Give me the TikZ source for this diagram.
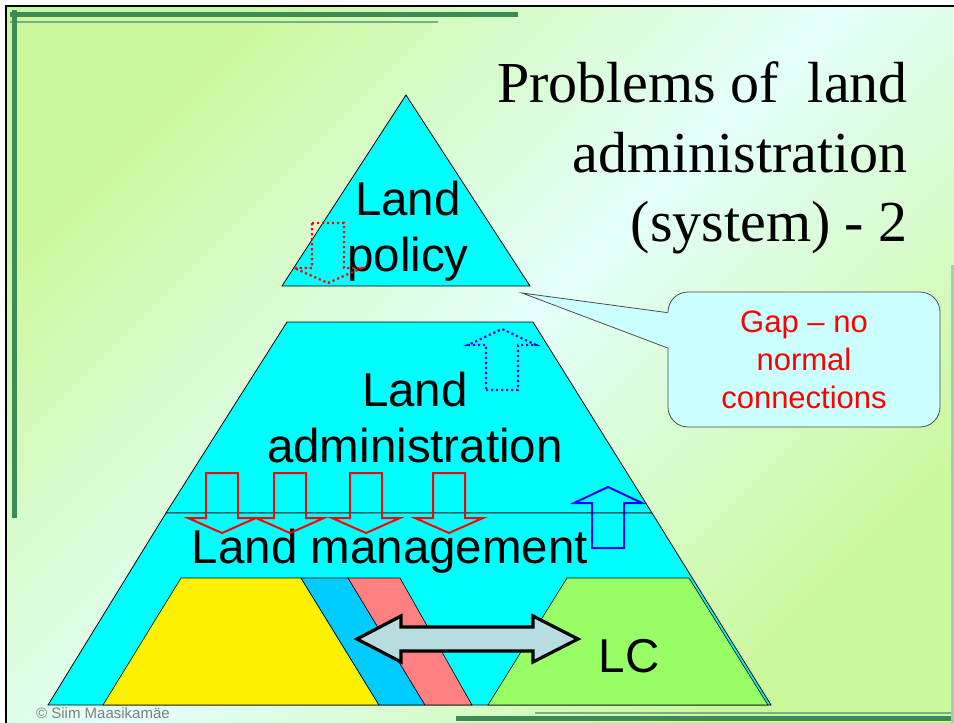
\documentclass[tikz,border=0pt]{standalone}
\usepackage{fontspec}
\setmainfont{Liberation Sans}
\newfontfamily\titlefont{Liberation Serif}
\definecolor{pyramidcyan}{RGB}{0, 255, 255}
\definecolor{stripeblue}{RGB}{0, 204, 255}
\definecolor{stripepink}{RGB}{255, 128, 128}
\definecolor{lcgreen}{RGB}{153, 255, 102}
\definecolor{calloutcyan}{RGB}{204, 255, 255}
\definecolor{arrowgrey}{RGB}{184, 221, 224}
\definecolor{framegreen}{RGB}{60, 140, 90}
\definecolor{bgleaf}{RGB}{204, 248, 156}
\definecolor{bgmint}{RGB}{228, 255, 252}
\usetikzlibrary{calc, positioning}

\tikzset{
  layer/.style={draw=black, line width=0.8pt, fill=pyramidcyan},
  slab/.style={draw=black, line width=0.6pt},
  levellabel/.style={font=\fontsize{47.5}{55.5}\selectfont, align=center, inner sep=0pt},
  dotline/.style={line width=2.2pt, dash pattern=on 2.2pt off 2.8pt},
  downarrow/.pic={\draw[pic actions] (-16,0) -- (16,0) -- (16,45) -- (34,45) -- (0,60) -- (-34,45) -- (-16,45) -- cycle;},
  uparrow/.pic={\draw[pic actions] (-16,0) -- (16,0) -- (16,-45) -- (34,-45) -- (0,-61) -- (-34,-45) -- (-16,-45) -- cycle;}
}

\begin{document}
\begin{tikzpicture}[x=1pt, y=-1pt]
  \useasboundingbox (0,0) rectangle (954,723);

  % Slide background and frame
  \fill[white] (0,0) rectangle (954,723);
  \shade[top color=bgleaf, bottom color=bgleaf, middle color=bgmint, shading angle=45] (6,6) rectangle (954,723);
  \draw[black, line width=2.5pt] (6,723) -- (6,6) -- (954,6);
  \draw[framegreen, line width=5pt] (10,14.5) -- (518,14.5);
  \draw[framegreen!70, line width=2pt] (10,21.5) -- (438,21.5);
  \draw[framegreen, line width=5pt] (14.5,10) -- (14.5,518);
  \draw[framegreen, line width=5pt] (456,718) -- (954,718);
  \draw[framegreen!70, line width=2pt] (535,712.5) -- (954,712.5);
  \draw[framegreen!45, line width=3pt] (952,265) -- (952,723);

  % Title
  \node[anchor=north east, align=right, inner sep=0pt, font=\titlefont\fontsize{58}{69.5}\selectfont] (title) at (908,61.5) {
    Problems of\ \ land\\administration\\(system) - 2
  };

  % Pyramid levels
  \draw[layer] (406,95) -- (530,286) -- (282,286) -- cycle;
  \draw[layer] (287,322) -- (533,322) -- (652,513) -- (166,513) -- cycle;
  \draw[layer] (166,513) -- (652,513) -- (771,705) -- (48,705) -- cycle;

  % Land management contents
  \draw[slab, fill=yellow] (181,578) -- (301,578) -- (379,705) -- (103,705) -- cycle;
  \draw[slab, fill=stripeblue] (301,578) -- (348,578) -- (425,705) -- (379,705) -- cycle;
  \draw[slab, fill=stripepink] (348,578) -- (400,578) -- (472,705) -- (425,705) -- cycle;
  \draw[slab, fill=lcgreen] (567,578) -- (689,578) -- (768,705) -- (488,705) -- cycle;
  \draw[line width=3.2pt, fill=arrowgrey, line join=miter] (357,639) -- (401,616) -- (401,627) -- (533,627) -- (533,616) -- (578,639)
    -- (533,662) -- (533,651) -- (401,651) -- (401,662) -- cycle;

  % Level labels
  \node[levellabel] (policy) at (408,231) {Land\\policy};
  \node[levellabel] (admin) at (415,417.5) {Land\\administration};
  \node[levellabel, anchor=base] (manage) at (390,563) {Land management};
  \node[levellabel, anchor=base] (lc) at (629,672) {LC};

  % Flows between levels
  \pic[draw=red, dotline] at (328,223) {downarrow};
  \pic[draw=blue, dotline] at (502,390) {uparrow};
  \foreach \xa in {222,290,366,449}
    \pic[draw=red, line width=2pt] at (\xa,473) {downarrow};
  \pic[draw=blue, line width=2pt] at (608,548) {uparrow};

  % Gap callout
  \node[draw=black!70, line width=0.8pt, fill=calloutcyan, rounded corners=20pt, minimum width=272pt, minimum height=135pt,
    text=red, font=\fontsize{31}{38}\selectfont, align=center] (gap) at (804,359.5) {Gap -- no\\normal\\connections};
  \coordinate (gaptip) at (522,293);
  \coordinate (gapin1) at ($(gap.north west)!0.155!(gap.south west)$);
  \coordinate (gapin2) at ($(gap.north west)!0.415!(gap.south west)$);
  \fill[calloutcyan] (gaptip) -- ([xshift=2pt]gapin1) -- ([xshift=2pt]gapin2) -- cycle;
  \draw[black!70, line width=0.8pt] (gapin1) -- (gaptip) -- (gapin2);

  % Credit
  \node[anchor=base west, inner sep=0pt, text=gray, font=\fontsize{15}{15}\selectfont] (credit) at (36,718) {\textcopyright\ Siim Maasikamäe};
\end{tikzpicture}
\end{document}
